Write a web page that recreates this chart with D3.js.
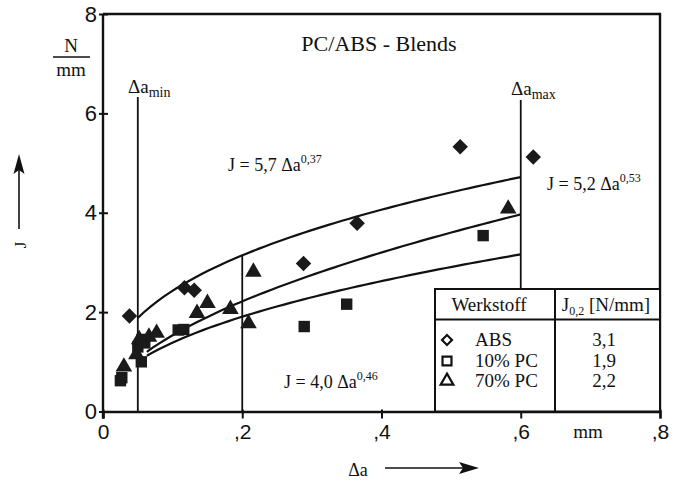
<!DOCTYPE html>
<html><head><meta charset="utf-8">
<script src="https://cdn.jsdelivr.net/npm/d3@7"></script>
<style>body{margin:0;background:#fff}svg{display:block}</style>
</head><body>
<script>
// ---- data ----
const xTicks = [0, 0.2, 0.4, 0.6, 0.8];
const xTickLabels = ["0", ",2", ",4", ",6", ",8"];
const yTicks = [0, 2, 4, 6, 8];
const yTickLabels = ["0", "2", "4", "6", "8"];

const absX = [0.038, 0.117, 0.131, 0.288, 0.365, 0.513, 0.618];
const absY = [1.92, 2.49, 2.44, 2.98, 3.79, 5.33, 5.12];

const pc10X = [0.025, 0.027, 0.055, 0.050, 0.056, 0.060, 0.108, 0.116, 0.289, 0.350, 0.546];
const pc10Y = [0.62, 0.68, 1.00, 1.30, 1.45, 1.38, 1.64, 1.65, 1.71, 2.16, 3.54];

const pc70X = [0.030, 0.048, 0.052, 0.066, 0.077, 0.135, 0.150, 0.183, 0.209, 0.216, 0.582];
const pc70Y = [0.90, 1.15, 1.45, 1.50, 1.58, 1.98, 2.18, 2.06, 1.77, 2.81, 4.08];

// fitted curves J = C * Δa^n (as labelled in the chart)
const fitNames = ["ABS", "70% PC", "10% PC"];
const fitC = [5.7, 5.2, 4.0];
const fitN = [0.37, 0.53, 0.46];
const fitStart = [0.05, 0.063, 0.063];
const fitEnd = [0.6, 0.6, 0.6];

const daMin = 0.05, daMax = 0.6, da02 = 0.2;

const legendNames = ["ABS", "10% PC", "70% PC"];
const legendSymbols = ["diamond", "square", "triangle"];
const legendJ = ["3,1", "1,9", "2,2"];

// ---- drawing ----
const W = 675, H = 481;
const svg = d3.select("body").append("svg").attr("width", W).attr("height", H);
const x = d3.scaleLinear().domain([0, 0.8]).range([103, 660]);
const y = d3.scaleLinear().domain([0, 8]).range([411.5, 14]);
const serif = "'Liberation Serif','Times New Roman',serif";
const sans = "'Liberation Sans',Arial,sans-serif";

// frame
svg.append("path")
  .attr("d", `M${x(0)},${y(8)}H${x(0.8)}V${y(0)}`)
  .attr("fill", "none").attr("stroke", "#111").attr("stroke-width", 2.4);

// axes
const xAxis = d3.axisBottom(x).tickValues(xTicks).tickFormat((d, i) => xTickLabels[i]).tickSize(7).tickPadding(6);
const gx = svg.append("g").attr("transform", `translate(0,${y(0)})`).call(xAxis);
gx.select(".domain").attr("stroke-width", 2.4).attr("stroke", "#111");
gx.selectAll(".tick line").attr("stroke-width", 2).attr("stroke", "#111").attr("y1", -2);
gx.selectAll("text").attr("font-family", sans).attr("font-size", 21).attr("fill", "#111");

const yAxis = d3.axisLeft(y).tickValues(yTicks).tickFormat((d, i) => yTickLabels[i]).tickSize(4).tickPadding(2);
const gy = svg.append("g").attr("transform", `translate(${x(0)},0)`).call(yAxis);
gy.select(".domain").attr("stroke-width", 2.4).attr("stroke", "#111").attr("d", `M0,${y(8)}V${y(0) + 7}`);
gy.selectAll(".tick line").attr("stroke-width", 2).attr("stroke", "#111").attr("x2", -4).attr("x1", 5);
gy.selectAll("text").attr("font-family", sans).attr("font-size", 22).attr("fill", "#111");

// vertical reference lines
const legTop = 289;
svg.append("line").attr("x1", x(daMin)).attr("x2", x(daMin)).attr("y1", 97).attr("y2", y(0))
  .attr("stroke", "#111").attr("stroke-width", 1.8);
svg.append("line").attr("x1", x(daMax)).attr("x2", x(daMax)).attr("y1", 100).attr("y2", legTop)
  .attr("stroke", "#111").attr("stroke-width", 1.8);
svg.append("line").attr("x1", x(da02)).attr("x2", x(da02)).attr("y1", y(fitC[0] * Math.pow(da02, fitN[0]))).attr("y2", y(0))
  .attr("stroke", "#111").attr("stroke-width", 1.8);

// fitted curves
const line = d3.line().x(d => x(d[0])).y(d => y(d[1])).curve(d3.curveLinear);
fitC.forEach((c, i) => {
  const pts = d3.range(0, 61).map(k => {
    const a = fitStart[i] + (fitEnd[i] - fitStart[i]) * k / 60;
    return [a, c * Math.pow(a, fitN[i])];
  });
  svg.append("path").attr("d", line(pts)).attr("fill", "none").attr("stroke", "#111").attr("stroke-width", 2.2);
});

// markers
const sym = {
  diamond: d3.symbol().type(d3.symbolSquare).size(120),
  square: d3.symbol().type(d3.symbolSquare).size(130),
  triangle: d3.symbol().type(d3.symbolTriangle).size(120)
};
function drawPts(xs, ys, kind) {
  svg.append("g").selectAll("path").data(xs.map((v, i) => [v, ys[i]])).join("path")
    .attr("d", sym[kind]())
    .attr("transform", d => `translate(${x(d[0])},${y(d[1])})` + (kind === "diamond" ? " rotate(45)" : ""))
    .attr("fill", "#1a1a1a");
}
drawPts(pc10X, pc10Y, "square");
drawPts(pc70X, pc70Y, "triangle");
drawPts(absX, absY, "diamond");

// texts
function txt(xp, yp, s, size, opts = {}) {
  return svg.append("text").attr("x", xp).attr("y", yp).text(s)
    .attr("font-family", opts.font || serif).attr("font-size", size)
    .attr("text-anchor", opts.anchor || "start").attr("fill", "#111");
}
txt(379, 51, "PC/ABS - Blends", 22, {anchor: "middle"});

// N/mm unit
txt(71, 52, "N", 19, {anchor: "middle"});
svg.append("line").attr("x1", 53).attr("x2", 90).attr("y1", 57).attr("y2", 57).attr("stroke", "#111").attr("stroke-width", 1.5);
txt(71, 76, "mm", 19, {anchor: "middle"});

// Δa_min / Δa_max
function subLabel(xp, yp, main, sub) {
  const t = txt(xp, yp, "", 19);
  t.append("tspan").text(main);
  t.append("tspan").text(sub).attr("font-size", 14).attr("dy", 4);
}
subLabel(128, 93, "\u0394a", "min");
subLabel(511, 95, "\u0394a", "max");

// equations
function eq(xp, yp, main, sup) {
  const t = txt(xp, yp, "", 18);
  t.append("tspan").text(main);
  t.append("tspan").text(sup).attr("font-size", 12).attr("dy", -8);
}
eq(228, 171, "J = 5,7 \u0394a", "0,37");
eq(547, 190, "J = 5,2  \u0394a", "0,53");
eq(284, 388, "J = 4,0 \u0394a", "0,46");

// y label and arrow
svg.append("text").attr("transform", "translate(26,245) rotate(-90)").text("J")
  .attr("font-family", serif).attr("font-size", 17).attr("text-anchor", "middle").attr("fill", "#111");
svg.append("line").attr("x1", 19).attr("x2", 19).attr("y1", 229).attr("y2", 165).attr("stroke", "#111").attr("stroke-width", 1.6);
svg.append("path").attr("d", "M19,154 L13.5,174 L19,170 L24.5,174 Z").attr("fill", "#111");

// x label and arrow
txt(358, 476, "\u0394a", 18, {anchor: "middle"});
svg.append("line").attr("x1", 385).attr("x2", 465).attr("y1", 468).attr("y2", 468).attr("stroke", "#111").attr("stroke-width", 1.6);
svg.append("path").attr("d", "M479,468 L459,462 L463,468 L459,474 Z").attr("fill", "#111");
txt(588, 438, "mm", 19, {anchor: "middle"});

// legend table
const lx0 = 435, lx1 = x(0.8), ldiv = 555, lhead = 319.5, lbot = y(0);
svg.append("rect").attr("x", lx0).attr("y", legTop).attr("width", lx1 - lx0).attr("height", lbot - legTop)
  .attr("fill", "#fff").attr("stroke", "#111").attr("stroke-width", 2);
svg.append("line").attr("x1", lx0).attr("x2", lx1).attr("y1", lhead).attr("y2", lhead).attr("stroke", "#111").attr("stroke-width", 2);
svg.append("line").attr("x1", ldiv).attr("x2", ldiv).attr("y1", legTop).attr("y2", lbot).attr("stroke", "#111").attr("stroke-width", 2);
txt(489, 311, "Werkstoff", 19, {anchor: "middle"});
const jh = txt(606, 311, "", 19, {anchor: "middle"});
jh.append("tspan").text("J");
jh.append("tspan").text("0,2").attr("font-size", 12).attr("dy", 4);
jh.append("tspan").text(" [N/mm]").attr("dy", -4);

const legSym = {
  diamond: d3.symbol().type(d3.symbolSquare).size(50),
  square: d3.symbol().type(d3.symbolSquare).size(80),
  triangle: d3.symbol().type(d3.symbolTriangle).size(70)
};
const rowY = [340, 361, 381];
legendNames.forEach((n, i) => {
  const k = legendSymbols[i];
  svg.append("path").attr("d", legSym[k]())
    .attr("transform", `translate(447,${rowY[i]})` + (k === "diamond" ? " rotate(45)" : ""))
    .attr("fill", "none").attr("stroke", "#111").attr("stroke-width", 2.2);
  txt(475, rowY[i] + 6, n, 19);
  txt(604, rowY[i] + 6, legendJ[i], 19, {anchor: "middle"});
});
</script>
</body></html>
